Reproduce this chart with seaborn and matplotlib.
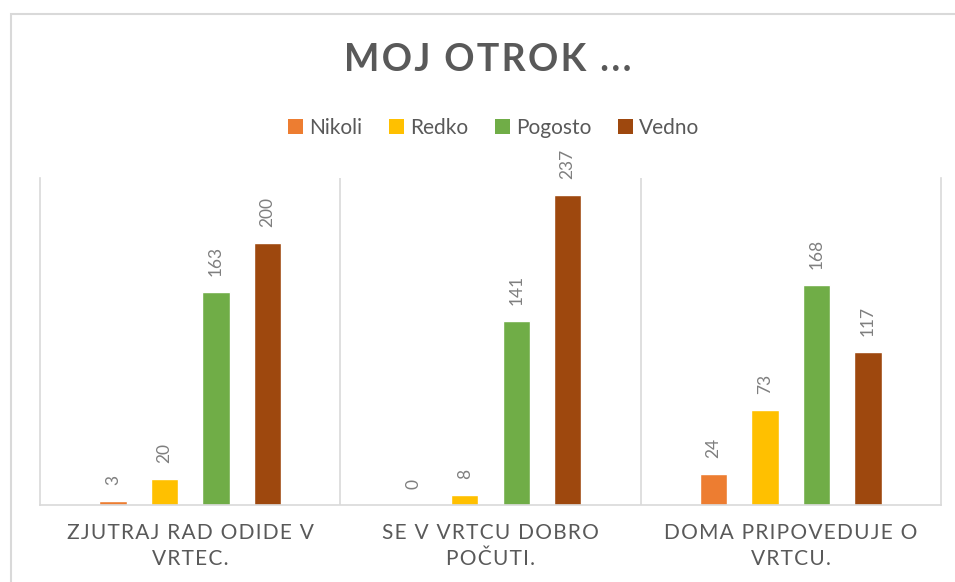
import matplotlib
matplotlib.use("Agg")
import matplotlib.pyplot as plt
import seaborn as sns
import pandas as pd
from matplotlib.patches import Rectangle, Patch

categories = ["ZJUTRAJ RAD ODIDE V\nVRTEC.", "SE V VRTCU DOBRO\nPOČUTI.", "DOMA PRIPOVEDUJE O\nVRTCU."]
series = ["Nikoli", "Redko", "Pogosto", "Vedno"]
nikoli = [3, 0, 24]
redko = [20, 8, 73]
pogosto = [163, 141, 168]
vedno = [200, 237, 117]
colors = ["#ED7D31", "#FFC000", "#70AD47", "#9E480E"]

rows = []
for s, vals in zip(series, [nikoli, redko, pogosto, vedno]):
    for c, v in zip(categories, vals):
        rows.append({"cat": c, "series": s, "value": v})
df = pd.DataFrame(rows)

sns.set_theme(style="white")
plt.rcParams["font.family"] = ["Lato", "DejaVu Sans"]
TXT = "#595959"

fig = plt.figure(figsize=(9.55, 5.82), dpi=100)
ax = fig.add_axes([40 / 955, 1 - 505 / 582, (941 - 40) / 955, (505 - 178) / 582])

sns.barplot(data=df, x="cat", y="value", hue="series", order=categories,
            hue_order=series, palette=colors, width=0.685, gap=0.47,
            ax=ax, legend=False, saturation=1)

ax.set_ylim(0, 250)
ax.set_xlim(-0.5, 2.5)
ax.set_ylabel("")
ax.set_xlabel("")
ax.set_yticks([])
for sp in ["left", "right", "bottom"]:
    ax.spines[sp].set_color("#d9d9d9")
    ax.spines[sp].set_linewidth(1.2)
ax.spines["top"].set_visible(False)
for xv in [0.5, 1.5]:
    ax.axvline(xv, color="#d9d9d9", lw=1.2, zorder=0)

def spaced(t, sep="\u200a"):
    return "\n".join(sep.join(list(line)) for line in t.split("\n"))

ax.set_xticks(range(len(categories)))
ax.set_xticklabels([spaced(c) for c in categories], fontsize=15, color=TXT,
                   fontweight="normal", linespacing=1.35)
ax.tick_params(axis="x", length=0, pad=13)

for cont in ax.containers:
    for bar in cont:
        h = bar.get_height()
        ax.annotate(f"{int(round(h))}", (bar.get_x() + bar.get_width() / 2, h),
                    xytext=(0, 11.5), textcoords="offset points",
                    rotation=90, ha="center", va="bottom",
                    fontsize=12.5, color="#7f7f7f")

fig.text(0.511, 1 - 60 / 582, spaced("MOJ OTROK ..."), ha="center", va="center",
         fontsize=27, fontweight="bold", color=TXT)

handles = [Patch(facecolor=c, edgecolor="none") for c in colors]
fig.legend(handles, series, loc="center", bbox_to_anchor=(0.517, 1 - 128 / 582),
           ncol=4, frameon=False, fontsize=15, handlelength=0.7, handleheight=0.7,
           handletextpad=0.3, columnspacing=1.3, labelcolor=TXT)

fig.add_artist(Rectangle((10.5 / 955, -0.1), 1.2, 1.1 - 14.5 / 582,
                         transform=fig.transFigure, fill=False,
                         edgecolor="#d9d9d9", lw=1.5))

fig.savefig("out.png", dpi=100)
